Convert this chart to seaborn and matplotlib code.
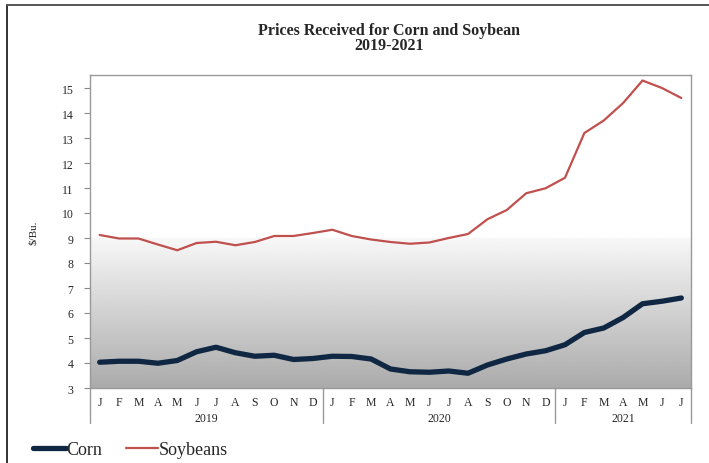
import numpy as np
import pandas as pd
import matplotlib.pyplot as plt
from matplotlib.lines import Line2D
import seaborn as sns

# monthly prices received, Jan 2019 - Jul 2021 ($/bu)
months = ["J", "F", "M", "A", "M", "J", "J", "A", "S", "O", "N", "D"] * 2 + \
    ["J", "F", "M", "A", "M", "J", "J"]
years = ["2019", "2020", "2021"]
year_len = [12, 12, 7]

corn = [4.03, 4.07, 4.07, 3.99, 4.10, 4.45, 4.63, 4.41, 4.27, 4.31, 4.14, 4.18,
        4.27, 4.26, 4.16, 3.76, 3.65, 3.63, 3.68, 3.59, 3.92, 4.16, 4.36, 4.49,
        4.73, 5.22, 5.40, 5.82, 6.37, 6.47, 6.60]
soybeans = [9.12, 8.98, 8.98, 8.74, 8.51, 8.80, 8.85, 8.71, 8.84, 9.08, 9.08, 9.20,
            9.33, 9.08, 8.94, 8.84, 8.77, 8.82, 9.00, 9.16, 9.75, 10.12, 10.79, 10.99,
            11.41, 13.20, 13.70, 14.40, 15.30, 15.00, 14.60]

df = pd.DataFrame({
    "idx": list(range(len(corn))) * 2,
    "price": corn + soybeans,
    "series": ["Corn"] * len(corn) + ["Soybeans"] * len(soybeans),
})

sns.set_style("white")
plt.rcParams["font.family"] = ["Liberation Serif", "DejaVu Serif"]

fig = plt.figure(figsize=(7.09, 4.64), dpi=100)
ax = fig.add_axes([90 / 709, 1 - 389 / 464, 601 / 709, 313 / 464])

y_lo, y_hi = 3, 15.52
n = len(corn)

# background: white top, fading to grey below about 9
yy = np.linspace(y_hi, y_lo, 400)
shade = np.where(yy > 9.0, 1.0, 0.97 - (9.0 - yy) / 6.0 * 0.30)
grad = np.repeat(shade[:, None], 2, axis=1)
ax.imshow(grad, cmap="gray", vmin=0, vmax=1, aspect="auto",
          extent=[-0.5, n - 0.5, y_lo, y_hi], zorder=0)

palette = {"Corn": "#0f2742", "Soybeans": "#c0504d"}
sns.lineplot(data=df, x="idx", y="price", hue="series", palette=palette,
             size="series", sizes={"Corn": 3.8, "Soybeans": 1.6},
             legend=False, ax=ax, zorder=3)
for line in ax.get_lines():
    line.set_solid_capstyle("round")
    line.set_solid_joinstyle("round")

ax.set_xlim(-0.5, n - 0.5)
ax.set_ylim(y_lo, y_hi)
ax.set_yticks(range(3, 16))
ax.tick_params(axis="y", labelsize=8.5, length=4, left=True, direction="out",
               color="#888888", pad=8)
ax.set_xticks(range(n))
ax.set_xticklabels(months, fontsize=8.5)
ax.tick_params(axis="x", length=0, pad=6)
ax.set_xlabel("")
ax.set_ylabel("$/Bu.", fontsize=8, labelpad=17)
for s in ax.spines.values():
    s.set_color("#999999")
    s.set_linewidth(1.0)

# year group labels and separators under the axis
start = 0
bounds = [-0.5]
for yr, ln in zip(years, year_len):
    ax.text(start + (ln - 1) / 2, -0.095, yr, transform=ax.get_xaxis_transform(),
            ha="center", va="center", fontsize=8.5)
    start += ln
    bounds.append(start - 0.5)
for b in bounds:
    ax.plot([b, b], [0, -0.112], transform=ax.get_xaxis_transform(),
            color="#999999", lw=1.0, clip_on=False)

fig.text(389 / 709, 1 - 38.5 / 464, "Prices Received for Corn and Soybean\n2019-2021",
         ha="center", va="center", fontsize=11.5, fontweight="bold",
         linespacing=0.9)

handles = [Line2D([], [], color=palette["Corn"], lw=3.8, solid_capstyle="round"),
           Line2D([], [], color=palette["Soybeans"], lw=1.6)]
fig.legend(handles, ["Corn", "Soybeans"], loc="center left",
           bbox_to_anchor=(33 / 709, 1 - 451 / 464), ncol=2, frameon=False,
           fontsize=13, handlelength=1.8, handletextpad=0.05, columnspacing=1.3,
           borderaxespad=0, borderpad=0)

# outer frame lines (top and left)
fig.add_artist(Line2D([7 / 709, 7 / 709], [0, 1 - 6 / 464], color="#333333", lw=1.4))
fig.add_artist(Line2D([7 / 709, 1], [1 - 6 / 464, 1 - 6 / 464], color="#555555", lw=1.4))

fig.savefig("out.png", dpi=100)
